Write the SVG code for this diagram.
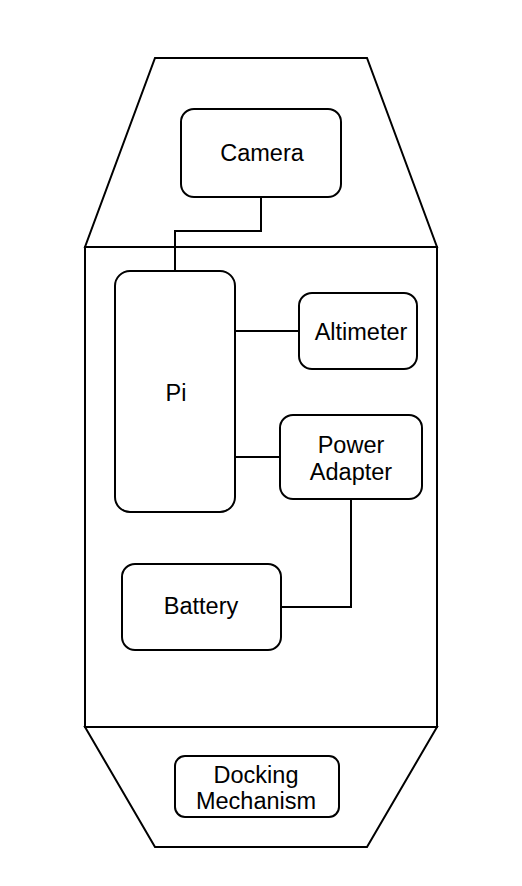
<svg xmlns="http://www.w3.org/2000/svg" width="522" height="886" viewBox="0 0 522 886">
<style>
.s{fill:#fff;stroke:#000;stroke-width:2}
.n{fill:#fff;stroke:#000;stroke-width:2}
.c{fill:none;stroke:#000;stroke-width:2}
text{font-family:"Liberation Sans",Arial,sans-serif;font-size:23.5px;fill:#000;text-anchor:middle}
</style>
<rect width="522" height="886" fill="#fff"/>
<g id="hull">
<polygon class="s" points="155,58 367,58 437,247 85,247"/>
<rect class="s" x="85" y="247" width="352" height="480"/>
<polygon class="s" points="85,727 437,727 367,847 155,847"/>
</g>
<g id="connectors">
<polyline class="c" points="261,197 261,231 175,231 175,271"/>
<line class="c" x1="235" y1="331" x2="299" y2="331"/>
<line class="c" x1="235" y1="457" x2="280" y2="457"/>
<polyline class="c" points="351,499 351,607 281,607"/>
</g>
<g id="camera"><rect class="n" x="181" y="109" width="160" height="88" rx="13"/><text x="262" y="161">Camera</text></g>
<g id="pi"><rect class="n" x="115" y="271" width="120" height="241" rx="15"/><text x="176" y="401">Pi</text></g>
<g id="altimeter"><rect class="n" x="299" y="293" width="118" height="76" rx="13"/><text x="361" y="340">Altimeter</text></g>
<g id="power-adapter"><rect class="n" x="280" y="415" width="142" height="84" rx="13"/><text x="351" y="453">Power</text><text x="351" y="480">Adapter</text></g>
<g id="battery"><rect class="n" x="122" y="564" width="159" height="86" rx="13"/><text x="201" y="614">Battery</text></g>
<g id="docking"><rect class="n" x="175" y="756" width="164" height="61" rx="10"/><text x="256" y="783">Docking</text><text x="256" y="809">Mechanism</text></g>
</svg>
